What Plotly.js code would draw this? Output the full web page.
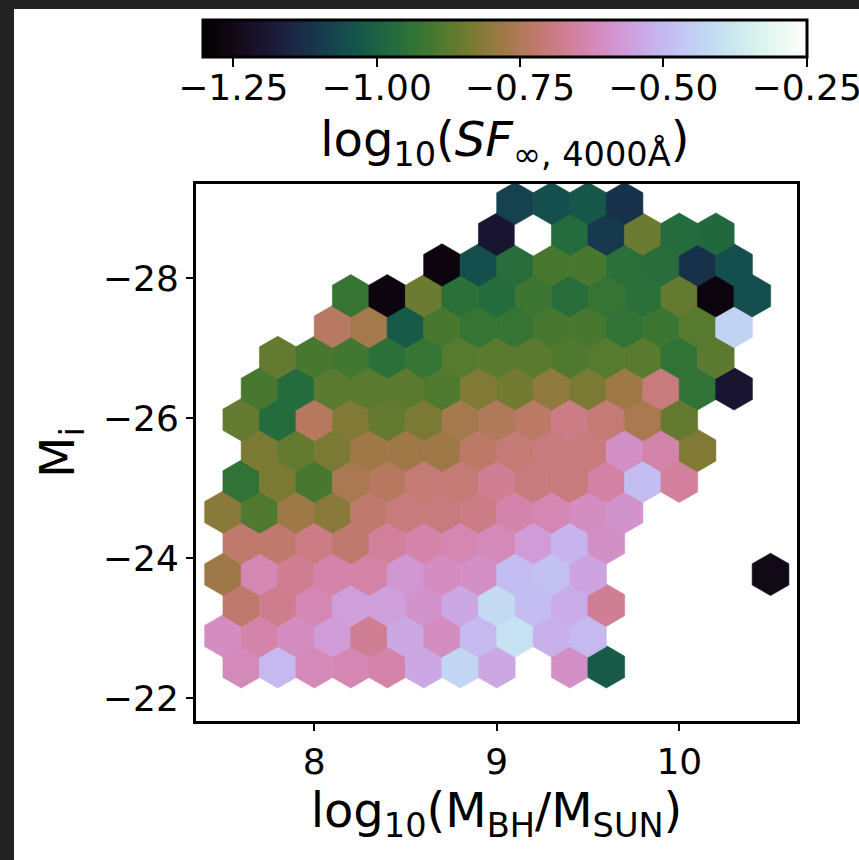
<!DOCTYPE html>
<html><head><meta charset="utf-8">
<script src="https://cdn.plot.ly/plotly-3.0.1.min.js"></script>
<style>
html,body{margin:0;padding:0;background:#222222;width:859px;height:860px;overflow:hidden;}
#chart{position:absolute;left:14px;top:9px;width:845px;height:851px;background:#ffffff;}
</style></head><body><div id="chart"></div>
<script>
// Hexbin centres: M_i of each hex row, and log10(M_BH) of the first hex in that row
const miBins   = [-22.45,-22.89,-23.33,-23.77,-24.22,-24.66,-25.10,-25.54,-25.98,-26.42,-26.87,-27.31,-27.75,-28.19,-28.63,-29.07];
const mbhStart = [7.6, 7.5, 7.6, 7.5, 7.6, 7.5, 7.6, 7.7, 7.6, 7.7, 7.8, 8.1, 8.2, 8.7, 9.0, 9.1];
const mbhStep  = 0.2;

// log10(SF_inf,4000A) per hex, row by row (null = empty bin)
const sfRow00 = [-0.62,-0.50,-0.62,-0.63,-0.64,-0.54,-0.43,-0.54,null,-0.60,-1.02];
const sfRow01 = [-0.61,-0.64,-0.61,-0.57,-0.67,-0.54,-0.61,-0.50,-0.40,-0.52,-0.50];
const sfRow02 = [-0.72,-0.68,-0.63,-0.56,-0.56,-0.59,-0.54,-0.42,-0.49,-0.53,-0.67];
const sfRow03 = [-0.78,-0.63,-0.67,-0.64,-0.645,-0.58,-0.61,-0.60,-0.49,-0.48,-0.55,null,null,null,null,-1.25];
const sfRow04 = [-0.72,-0.72,-0.69,-0.72,-0.66,-0.64,-0.63,-0.62,-0.57,-0.51,-0.60];
const sfRow05 = [-0.81,-0.89,-0.78,-0.81,-0.72,-0.70,-0.70,-0.69,-0.64,-0.63,-0.61,-0.59];
const sfRow06 = [-0.94,-0.83,-0.90,-0.76,-0.74,-0.71,-0.71,-0.67,-0.70,-0.70,-0.65,-0.49,-0.66];
const sfRow07 = [-0.83,-0.86,-0.83,-0.78,-0.78,-0.78,-0.73,-0.71,-0.70,-0.70,-0.60,-0.64,-0.82];
const sfRow08 = [-0.86,-0.97,-0.74,-0.82,-0.86,-0.83,-0.77,-0.75,-0.73,-0.69,-0.71,-0.76,-0.86];
const sfRow09 = [-0.90,-0.97,-0.87,-0.87,-0.87,-0.89,-0.82,-0.84,-0.80,-0.83,-0.78,-0.70,-0.94,-1.20];
const sfRow10 = [-0.86,-0.90,-0.91,-0.95,-0.93,-0.88,-0.87,-0.87,-0.89,-0.88,-0.87,-0.94,-0.87];
const sfRow11 = [-0.735,-0.77,-1.02,-0.90,-0.93,-0.93,-0.90,-0.90,-0.94,-0.92,-0.88,-0.44];
const sfRow12 = [-0.93,-1.27,-0.85,-0.95,-0.97,-0.92,-0.96,-0.93,-0.95,-0.86,-1.27,-1.05];
const sfRow13 = [-1.27,-1.05,-0.96,-0.90,-0.90,-0.95,-0.96,-1.12,-1.05];
const sfRow14 = [-1.20,-0.25,-0.97,-1.10,-0.85,-0.97,-0.98];
const sfRow15 = [-1.08,-1.05,-1.03,-1.12];
const sfRows = [sfRow00,sfRow01,sfRow02,sfRow03,sfRow04,sfRow05,sfRow06,sfRow07,
                sfRow08,sfRow09,sfRow10,sfRow11,sfRow12,sfRow13,sfRow14,sfRow15];

const cMin = -1.303, cMax = -0.25;
const cbTicks = [-1.25,-1.00,-0.75,-0.50,-0.25];
const xTicks = [8,9,10];
const yTicks = [-28,-26,-24,-22];

// matplotlib 'cubehelix' colormap
function cubehelix(f){
  const s=0.5, r=-1.5, h=1.0;
  const a = h*f*(1-f)/2, phi = 2*Math.PI*(s/3 + r*f);
  const c = Math.cos(phi), sn = Math.sin(phi);
  const R = f + a*(-0.14861*c + 1.78277*sn);
  const G = f + a*(-0.29227*c - 0.90649*sn);
  const B = f + a*(1.97294*c);
  const cl = v => Math.round(255*Math.min(1,Math.max(0,v)));
  return 'rgb('+cl(R)+','+cl(G)+','+cl(B)+')';
}
const colorscale = [];
for(let i=0;i<=64;i++){ colorscale.push([i/64, cubehelix(i/64)]); }

const xs=[], ys=[], zs=[], cols=[];
sfRows.forEach((row,ri)=>{
  row.forEach((v,k)=>{
    if(v===null) return;
    xs.push(+(mbhStart[ri] + k*mbhStep).toFixed(3));
    ys.push(miBins[ri]);
    zs.push(v);
    cols.push(cubehelix(Math.min(1,Math.max(0,(v-cMin)/(cMax-cMin)))));
  });
});

const F = 'DejaVu Sans, Verdana, sans-serif';
const hexTrace = {
  type:'scatter', mode:'markers', x:xs, y:ys, xaxis:'x', yaxis:'y',
  hovertemplate:'%{x}, %{y}: %{marker.color}<extra></extra>',
  marker:{symbol:'hexagon', size:42.4, color:zs, cmin:cMin, cmax:cMax,
    colorscale:colorscale, line:{width:0.6, color:cols},
    colorbar:{orientation:'h', x:0.46584, xanchor:'center', y:0.98483, yanchor:'top',
      len:604, lenmode:'pixels', thickness:37, thicknessmode:'pixels',
      xpad:0, ypad:0, outlinewidth:3, outlinecolor:'#000',
      ticks:'', showticklabels:false, tickvals:cbTicks}
  },
  showlegend:false
};
// empty trace that carries the colour-bar tick axis
const cbAxisTrace = {type:'scatter', mode:'markers', x:[], y:[], xaxis:'x2', yaxis:'y2',
  showlegend:false, hoverinfo:'skip'};

const axFont = {family:F, size:36, color:'#000'};
const layout = {
  width:845, height:851,
  margin:{l:182, r:0, t:0, b:139},
  paper_bgcolor:'#ffffff', plot_bgcolor:'rgba(0,0,0,0)',
  font:{family:F, color:'#000'},
  xaxis:{domain:[0,0.90649], range:[7.3518,10.645], tickvals:xTicks, ticks:'outside', ticklen:7, tickwidth:2,
    tickcolor:'#000', showline:true, linewidth:3, linecolor:'#000', mirror:true, anchor:'y',
    showgrid:false, zeroline:false, tickfont:axFont,
    title:{text:'log<sub>10</sub>(M<sub>BH</sub>/M<sub>SUN</sub>)', font:{family:F, size:48, color:'#000'}, standoff:10}},
  yaxis:{domain:[0,0.75421], range:[-21.676,-29.347], tickvals:yTicks, ticks:'outside', ticklen:7, tickwidth:2,
    tickcolor:'#000', showline:true, linewidth:3, linecolor:'#000', mirror:true, anchor:'x',
    showgrid:false, zeroline:false, tickfont:axFont,
    title:{text:'M<sub>i</sub>', font:{family:F, size:48, color:'#000'}, standoff:14}},
  xaxis2:{domain:[0.01041,0.92112], range:[cMin,cMax], anchor:'y2', tickvals:cbTicks, tickformat:'.2f',
    ticks:'outside', ticklen:9, tickwidth:1.8, tickcolor:'#000', ticklabelstandoff:-10,
    ticklabeloverflow:'allow',
    showline:false, showgrid:false, zeroline:false, tickfont:axFont, fixedrange:true,
    title:{text:'log<sub>10</sub>(<i>SF</i><sub>∞, 4000Å</sub>)', font:{family:F, size:48, color:'#000'}, standoff:15}},
  yaxis2:{domain:[0.93287,0.98483], range:[0,1], anchor:'x2', visible:false, fixedrange:true}
};

Plotly.newPlot('chart',[hexTrace,cbAxisTrace],layout,{displayModeBar:false, staticPlot:true});
</script></body></html>
